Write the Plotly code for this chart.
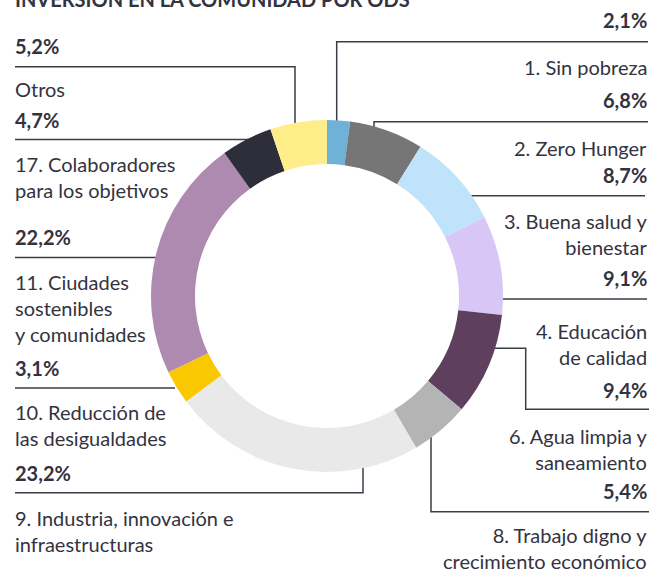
import plotly.graph_objects as go

W, H = 651, 569

# ---- data ----
labels = ["1. Sin pobreza", "2. Zero Hunger", "3. Buena salud y bienestar",
          "4. Educación de calidad", "6. Agua limpia y saneamiento",
          "8. Trabajo digno y crecimiento económico",
          "9. Industria, innovación e infraestructuras",
          "10. Reducción de las desigualdades",
          "11. Ciudades sostenibles y comunidades",
          "17. Colaboradores para los objetivos", "Otros"]
values = [2.1, 6.8, 8.7, 9.1, 9.4, 5.4, 23.2, 3.1, 22.2, 4.7, 5.2]
display_labels = ["1. Sin pobreza", "2. Zero Hunger", "3. Buena salud y<br>bienestar",
                  "4. Educación<br>de calidad", "6. Agua limpia y<br>saneamiento",
                  "8. Trabajo digno y<br>crecimiento económico",
                  "9. Industria, innovación e<br>infraestructuras",
                  "10. Reducción de<br>las desigualdades",
                  "11. Ciudades<br>sostenibles<br>y comunidades",
                  "17. Colaboradores<br>para los objetivos", "Otros"]
colors = ["#6fb2d8", "#767676", "#bfe3fb", "#d8c7f6", "#5e405e", "#b4b4b4",
          "#e9e9e9", "#f9c800", "#ae8ab1", "#2e2e3a", "#ffed8a"]
title_text = "INVERSIÓN EN LA COMUNIDAD POR ODS"

# ---- layout helpers (pixel -> paper) ----
def px(x):
    return x / W

def py(y):
    return 1 - y / H

TXT = "#33333f"
LINE = "#3c3c46"
FONT = "Lato"
FS = 20

cx, cy, R = 327, 296, 176

fig = go.Figure(go.Pie(
    labels=labels, values=values, sort=False, direction="clockwise", rotation=0,
    hole=0.75, marker=dict(colors=colors, line=dict(width=0)),
    textinfo="none", hoverinfo="skip", showlegend=False,
    domain=dict(x=[px(cx - R), px(cx + R)], y=[py(cy + R), py(cy - R)]),
))

def fmt(v):
    return f"{v:.1f}%".replace(".", ",")

left_pos = {  # index -> (value_y, label_y)
    10: (46, 89.3),
    9: (120, 176.7),
    8: (237.3, 307.8),
    7: (368.3, 425),
    6: (473.3, 530.5),
}
right_pos = {
    0: (19.5, 66.7),
    1: (100, 148.3),
    2: (175, 233.8),
    3: (278.3, 343.7),
    4: (390, 449.2),
    5: (490.7, 547.5),
}

ann = []
for i, (vy, ly) in left_pos.items():
    ann.append(dict(x=px(13), y=py(vy), text="<b>" + fmt(values[i]) + "</b>",
                    xanchor="left", yanchor="middle", align="left"))
    ann.append(dict(x=px(13), y=py(ly), text=display_labels[i],
                    xanchor="left", yanchor="middle", align="left"))
for i, (vy, ly) in right_pos.items():
    ann.append(dict(x=px(649), y=py(vy), text="<b>" + fmt(values[i]) + "</b>",
                    xanchor="right", yanchor="middle", align="right"))
    ann.append(dict(x=px(649), y=py(ly), text=display_labels[i],
                    xanchor="right", yanchor="middle", align="right"))
ann.append(dict(x=px(13), y=py(-1), text="<b>" + title_text + "</b>",
                xanchor="left", yanchor="middle", align="left"))
for a in ann:
    a.update(xref="paper", yref="paper", showarrow=False,
             font=dict(family=FONT, size=FS, color=TXT))

# leader lines (pixel polylines)
paths = [
    [(15, 66.7), (295, 66.7), (295, 125)],          # Otros
    [(15, 139.5), (250, 139.5)],                     # 17
    [(15, 257.5), (160, 257.5)],                     # 11
    [(15, 388), (175, 388)],                         # 10
    [(15, 492.7), (363, 492.7), (363, 465)],         # 9
    [(336.7, 125), (336.7, 41.7), (648, 41.7)],      # 1
    [(374, 128), (374, 121.7), (648, 121.7)],        # 2
    [(465, 195.7), (645, 195.7)],                    # 3
    [(498, 299), (647, 299)],                        # 4
    [(490, 348.3), (525.7, 348.3), (525.7, 409.3), (649, 409.3)],  # 6
    [(431, 432), (431, 511.7), (649, 511.7)],        # 8
]
shapes = []
for p in paths:
    d = "M " + " L ".join(f"{px(x):.5f},{py(y):.5f}" for x, y in p)
    shapes.append(dict(type="path", path=d, xref="paper", yref="paper",
                       line=dict(color=LINE, width=1.5), layer="below"))

fig.update_layout(
    width=W, height=H, margin=dict(l=0, r=0, t=0, b=0),
    paper_bgcolor="white", plot_bgcolor="white",
    annotations=ann, shapes=shapes,
)
fig.write_html(
    "out.html",
    config={"displayModeBar": False},
    post_script="document.body.style.margin='0';document.body.style.overflow='hidden';",
)
